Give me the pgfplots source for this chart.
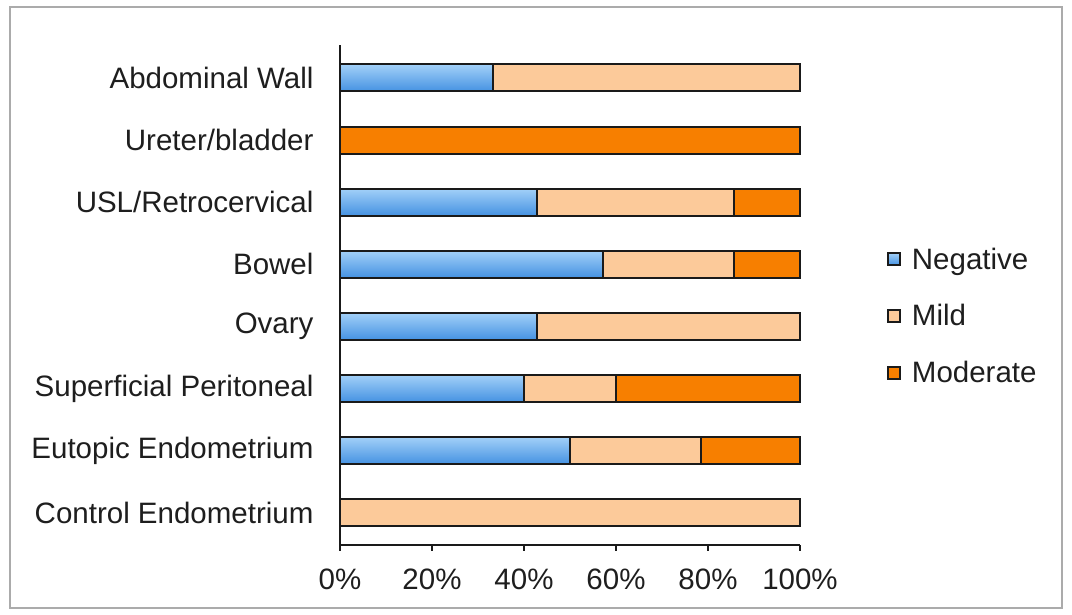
\documentclass[border=0pt]{standalone}
\usepackage{fontspec}
\setmainfont{Liberation Sans}
\usepackage{pgfplots}
\pgfplotsset{compat=1.18}

\definecolor{negmid}{HTML}{5AA5EE}
\definecolor{negtop}{HTML}{A2D0F8}
\definecolor{negbot}{HTML}{4592E2}
\definecolor{mild}{HTML}{FCCA9A}
\definecolor{moderate}{HTML}{F77F00}
\definecolor{edge}{HTML}{1A1A1A}
\definecolor{frame}{HTML}{ABABAB}
\definecolor{txt}{HTML}{1E1E1E}

% shared geometry of the plotting area
\pgfplotsset{
  chartarea/.style={
    at={(340pt,70pt)}, anchor=south west,
    scale only axis, width=460pt, height=500pt,
    xmin=0, xmax=100, ymin=-0.52, ymax=7.53,
    bar width=27pt, clip=false,
  },
  barline/.style={draw=edge, line width=2pt},
  negbar/.style={barline, xbar, bar shift=0pt, top color=negtop, bottom color=negbot},
}

\begin{document}
\begin{tikzpicture}[x=1pt,y=1pt]
\useasboundingbox (0,0) rectangle (1072,615);
\fill[white] (0,0) rectangle (1072,615);
\draw[frame, line width=2pt] (10,7) rectangle (1062,608);

\begin{axis}[
  chartarea,
  xbar stacked,
  axis lines*=left,
  axis line style={edge, line width=1.3pt},
  xtick={0,20,40,60,80,100},
  xticklabels={0\%,20\%,40\%,60\%,80\%,100\%},
  ytick={0,...,7},
  yticklabels={Control Endometrium,Eutopic Endometrium,Superficial Peritoneal,Ovary,Bowel,USL/Retrocervical,Ureter/bladder,Abdominal Wall},
  tick align=outside, major tick length=6pt,
  xtick style={edge, line width=1.3pt},
  ytick style={draw=none},
  ticklabel style={font=\fontsize{29.5}{35}\selectfont, text=txt},
  yticklabel style={xshift=-17pt},
  xticklabel style={yshift=-14pt},
  legend style={at={(1.189,0.458)}, anchor=west, draw=none, fill=none,
    font=\fontsize{29.5}{35}\selectfont, text=txt,
    row sep=30pt, inner sep=0pt},
  legend cell align=left,
  legend image code/.code={%
    \draw[#1, line width=1.6pt] (0pt,-6pt) rectangle (12pt,6pt);
    \path (21pt,0pt);},
]
\addplot[barline, fill=negmid, top color=negtop, bottom color=negbot]
  coordinates {(0,0) (50,1) (40,2) (42.86,3) (57.14,4) (42.86,5) (0,6) (33.33,7)};
\addplot[barline, fill=mild]
  coordinates {(100,0) (28.57,1) (20,2) (57.14,3) (28.57,4) (42.86,5) (0,6) (66.67,7)};
\addplot[barline, fill=moderate]
  coordinates {(0,0) (21.43,1) (40,2) (0,3) (14.29,4) (14.29,5) (100,6) (0,7)};
\legend{Negative,Mild,Moderate}
\end{axis}

% gradient fill of the Negative bars, one path per bar
\begin{axis}[chartarea, hide axis]
\addplot[negbar] coordinates {(50,1)};
\addplot[negbar] coordinates {(40,2)};
\addplot[negbar] coordinates {(42.86,3)};
\addplot[negbar] coordinates {(57.14,4)};
\addplot[negbar] coordinates {(42.86,5)};
\addplot[negbar] coordinates {(33.33,7)};
\end{axis}
\end{tikzpicture}
\end{document}
